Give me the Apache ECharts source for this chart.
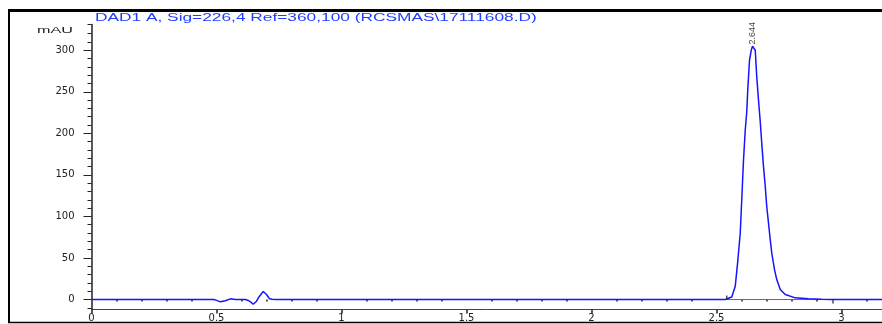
<!DOCTYPE html>
<html>
<head>
<meta charset="utf-8">
<script src="https://cdn.jsdelivr.net/npm/echarts@6/dist/echarts.min.js"></script>
<style>
  html, body { margin: 0; padding: 0; background: #fff; }
  #chart { width: 882px; height: 324px; }
</style>
</head>
<body>
<div id="chart"></div>
<script>
// Chromatogram trace: retention time (min) and detector signal (mAU)
const times = [
  0, 0.49, 0.50, 0.516, 0.535, 0.556, 0.575, 0.616, 0.630, 0.647, 0.660, 0.672,
  0.687, 0.700, 0.712, 0.723, 0.74, 2.50, 2.535, 2.561, 2.575, 2.585, 2.595,
  2.601, 2.608, 2.615, 2.621, 2.625, 2.632, 2.639, 2.644, 2.655, 2.661, 2.668,
  2.675, 2.681, 2.688, 2.695, 2.701, 2.708, 2.715, 2.721, 2.732, 2.741, 2.755,
  2.775, 2.815, 2.868, 2.92, 2.96, 3.162
];
const signal = [
  0, 0, -1.0, -2.8, -1.5, 0.8, 0, 0, -1.5, -5.6, -2.0, 4.0,
  9.6, 6.0, 1.0, 0.3, 0, 0, 0, 3, 16, 46, 80,
  120, 168, 204, 226, 252, 288, 300, 305, 300, 268, 240,
  214, 188, 160, 136, 112, 92, 72, 56, 36, 24, 12,
  6, 2, 0.8, 0.2, 0, 0
];

// Integration baseline under the peak (start, end)
const baseTimes = [2.541, 2.966];
const baseValues = [0, 0];

// Axis ticks
const xMajorTicks = [0, 0.5, 1, 1.5, 2, 2.5, 3];
const xMinorTicks = [0.1, 0.2, 0.3, 0.4, 0.6, 0.7, 0.8, 0.9, 1.1, 1.2, 1.3, 1.4,
  1.6, 1.7, 1.8, 1.9, 2.1, 2.2, 2.3, 2.4, 2.6, 2.7, 2.8, 2.9, 3.1];
const yMajorTicks = [0, 50, 100, 150, 200, 250, 300];
const yMinorTicks = [-10, 10, 20, 30, 40, 60, 70, 80, 90, 110, 120, 130, 140,
  160, 170, 180, 190, 210, 220, 230, 240, 260, 270, 280, 290, 310, 320, 331];

const titleText = 'DAD1 A, Sig=226,4 Ref=360,100 (RCSMAS\\17111608.D)';
const unitText = 'mAU';

const X_MIN = 0, X_MAX = 3.162, Y_MIN = -12, Y_MAX = 331;

const trace = times.map((t, i) => [t, signal[i]]);
let apexIdx = 0;
signal.forEach((v, i) => { if (v > signal[apexIdx]) apexIdx = i; });
const apex = trace[apexIdx];

const labelFont = 'DejaVu Sans';
const inkColor = '#222';
const traceColor = '#1414ff';

const chart = echarts.init(document.getElementById('chart'), null, { renderer: 'canvas' });

const hiddenAxisParts = {
  axisLine: { show: false },
  axisLabel: { show: false },
  splitLine: { show: false }
};

chart.setOption({
  animation: false,
  backgroundColor: '#fff',
  grid: { left: 91.5, right: 0, top: 24.5, bottom: 14.5, containLabel: false },
  xAxis: [
    {
      type: 'value', min: X_MIN, max: X_MAX,
      axisLine: { show: true, onZero: false, lineStyle: { color: '#444', width: 1 } },
      axisTick: { show: true, customValues: xMajorTicks, length: 4, lineStyle: { color: '#222', width: 1.5 } },
      axisLabel: {
        show: true, customValues: xMajorTicks, margin: 4,
        fontFamily: labelFont, fontSize: 10, color: inkColor
      },
      splitLine: { show: false }
    },
    Object.assign({
      type: 'value', min: X_MIN, max: X_MAX, position: 'bottom',
      axisTick: { show: true, customValues: xMinorTicks, length: 2, lineStyle: { color: '#222', width: 1.5 } }
    }, hiddenAxisParts)
  ],
  yAxis: [
    {
      type: 'value', min: Y_MIN, max: Y_MAX,
      axisLine: { show: true, onZero: false, lineStyle: { color: '#222', width: 1.5 } },
      axisTick: { show: true, customValues: yMajorTicks, length: 8, lineStyle: { color: '#222', width: 1 } },
      axisLabel: {
        show: true, customValues: yMajorTicks, margin: 17,
        fontFamily: labelFont, fontSize: 10, color: inkColor
      },
      splitLine: { show: false }
    },
    Object.assign({
      type: 'value', min: Y_MIN, max: Y_MAX, position: 'left',
      axisTick: { show: true, customValues: yMinorTicks, length: 4, lineStyle: { color: '#222', width: 1 } }
    }, hiddenAxisParts)
  ],
  series: [
    {
      name: 'baseline', type: 'line', xAxisIndex: 0, yAxisIndex: 0,
      data: baseTimes.map((t, i) => [t, baseValues[i]]),
      showSymbol: false, silent: true,
      lineStyle: { color: '#ff00ff', width: 1 }, z: 2
    },
    {
      name: 'baseline ends', type: 'scatter', xAxisIndex: 0, yAxisIndex: 0,
      data: [
        { value: [baseTimes[0], baseValues[0]], symbolOffset: [0, -2] },
        { value: [baseTimes[1], baseValues[1]], symbolOffset: [0, 2] }
      ],
      symbol: 'rect', symbolSize: [1.5, 4], silent: true,
      itemStyle: { color: '#222' }, z: 4
    },
    {
      name: 'DAD1 A', type: 'line', xAxisIndex: 0, yAxisIndex: 0,
      data: trace, showSymbol: false, smooth: false,
      lineStyle: { color: traceColor, width: 1.5 }, z: 3
    },
    {
      name: 'apex', type: 'scatter', xAxisIndex: 0, yAxisIndex: 0,
      data: [apex], symbolSize: 1, silent: true,
      itemStyle: { color: 'rgba(0,0,0,0)' },
      label: {
        show: true, position: 'top', distance: 1, rotate: 90,
        align: 'left', verticalAlign: 'middle',
        fontFamily: 'Liberation Sans', fontSize: 9, color: '#111',
        formatter: p => p.value[0].toFixed(3)
      }
    }
  ],
  graphic: [
    // outer frame
    { type: 'line', shape: { x1: 8, y1: 10.5, x2: 882, y2: 10.5 }, style: { stroke: '#000', lineWidth: 3 }, silent: true },
    { type: 'line', shape: { x1: 9, y1: 9, x2: 9, y2: 323 }, style: { stroke: '#000', lineWidth: 2 }, silent: true },
    { type: 'line', shape: { x1: 8, y1: 322.5, x2: 882, y2: 322.5 }, style: { stroke: '#000', lineWidth: 1.5 }, silent: true },
    // signal description
    {
      type: 'text', x: 95, y: 13, scaleX: 1.73, silent: true,
      style: { text: titleText, font: '10px "Liberation Sans"', fill: '#1f3dff', align: 'left', verticalAlign: 'top' }
    },
    // unit
    {
      type: 'text', x: 73, y: 26, scaleX: 1.8, silent: true,
      style: { text: unitText, font: '9px "Liberation Sans"', fill: inkColor, align: 'right', verticalAlign: 'top' }
    }
  ]
});
</script>
</body>
</html>
